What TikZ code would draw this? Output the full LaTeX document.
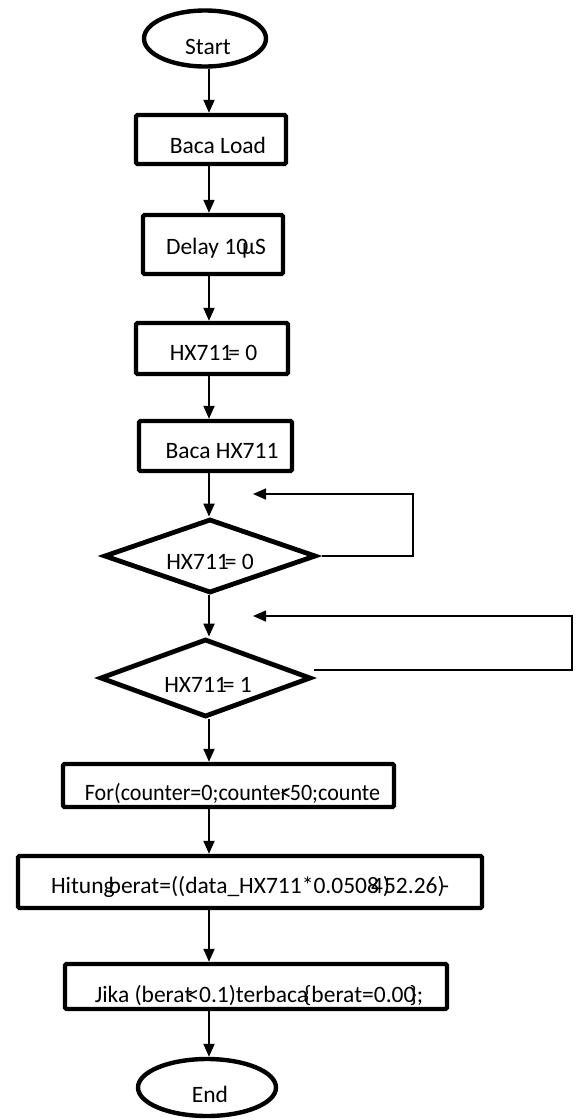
\documentclass[tikz,border=0pt]{standalone}
\usepackage{fontspec}
\setmainfont{Carlito}
\usetikzlibrary{shapes.geometric,arrows.meta}
\tikzset{
  stepbox/.style={draw, line width=4.4pt, rounded corners=1.5pt, inner sep=0pt},
  term/.style={ellipse, draw, line width=4.4pt, inner sep=0pt},
  dec/.style={diamond, draw, line width=4.8pt, inner sep=0pt},
  arr/.style={line width=2pt, -{Triangle[width=11pt,length=13pt]}},
  back/.style={line width=1.6pt, -{Triangle[width=11pt,length=13pt]}},
  txt/.style={font=\fontsize{23.5}{28}\selectfont, inner sep=0pt, text height=15pt, text depth=0pt}
}
\begin{document}
\begin{tikzpicture}[x=1pt,y=-1pt]
\useasboundingbox (0,0) rectangle (579,1120);
\coordinate (axis) at (209,0);
% shapes
\node[term, minimum width=122pt, minimum height=56pt] (start) at (205,38.5) {};
\node[stepbox, minimum width=150pt, minimum height=49pt] (b1) at (211,139.5) {};
\node[stepbox, minimum width=140pt, minimum height=59pt] (b2) at (213,244.5) {};
\node[stepbox, minimum width=152pt, minimum height=51pt] (b3) at (212,348.5) {};
\node[stepbox, minimum width=153pt, minimum height=50pt] (b4) at (215.5,446) {};
\node[dec, minimum width=212pt, minimum height=74pt] (d1) at (210,556) {};
\node[dec, minimum width=211pt, minimum height=78pt] (d2) at (205.5,678) {};
\node[stepbox, minimum width=331pt, minimum height=43pt] (b5) at (228.5,785.5) {};
\node[stepbox, minimum width=464pt, minimum height=52pt] (b6) at (250,882) {};
\node[stepbox, minimum width=382pt, minimum height=45pt] (b7) at (256,986.5) {};
\node[term, minimum width=138pt, minimum height=57pt] (end) at (207,1087.5) {};
% texts
\node[txt] (tstart) at (208,47) {Start};
\node[txt] (t1) at (218,146) {Baca Load};
\node[txt] (t2) at (216,247) {Delay 10\kern-6pt µS};
\node[txt] (t3) at (213.5,353) {HX711\kern-4pt= 0};
\node[txt] (t4) at (222,451) {Baca HX711};
\node[txt] (t5) at (210,562) {HX711\kern-4pt= 0};
\node[txt] (t6) at (208,685) {HX711\kern-4pt= 1};
\node[txt, xscale=0.94] (t7) at (232.5,793) {For(counter=0;counter\kern-8pt<\kern-2pt50;counte};
\node[txt] (t8) at (250,886) {Hitung\kern-6pt berat=((data\_HX711*0.0508\kern-8pt 4)\kern-6pt 52.26)\kern-3pt-};
\node[txt] (t9) at (259,995) {Jika (berat\kern-5pt<0.1)terbaca\kern-4pt\{berat=0.00\kern-6pt\};};
\node[txt] (tend) at (210,1095) {End};
% connectors
\draw[arr] (start.south -| axis) -- (b1.north -| axis);
\draw[arr] (b1.south -| axis) -- (b2.north -| axis);
\draw[arr] (b2.south -| axis) -- (b3.north -| axis);
\draw[arr] (b3.south -| axis) -- (b4.north -| axis);
\draw[arr] (b4.south -| axis) -- (d1.north -| axis);
\draw[arr] (d1.south -| axis) -- (d2.north -| axis);
\draw[arr] (d2.south -| axis) -- (b5.north -| axis);
\draw[arr] (b5.south -| axis) -- (b6.north -| axis);
\draw[arr] (b6.south -| axis) -- (b7.north -| axis);
\draw[arr] (b7.south -| axis) -- (end.north -| axis);
% loops
\coordinate (l1c) at (413,494);
\coordinate (l1t) at (253,494);
\draw[back, shorten <=4pt] (d1.east) -- (d1.east -| l1c) -- (l1c) -- (l1t);
\coordinate (l2s) at (314,670);
\coordinate (l2c) at (572,616);
\coordinate (l2t) at (253,616);
\draw[back] (l2s) -- (l2s -| l2c) -- (l2c) -- (l2t);
\end{tikzpicture}
\end{document}
